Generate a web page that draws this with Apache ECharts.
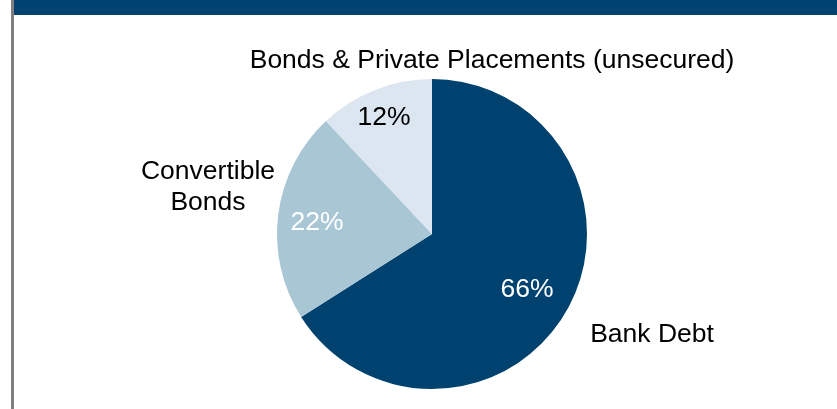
<!DOCTYPE html>
<html>
<head>
<meta charset="utf-8">
<script src="https://cdn.jsdelivr.net/npm/echarts@6/dist/echarts.min.js"></script>
<style>
html,body{margin:0;padding:0;background:#fff;}
#c{width:837px;height:409px;}
</style>
</head>
<body>
<div id="c"></div>
<script>
const categories = ['Bank Debt', 'Convertible\nBonds', 'Bonds & Private Placements (unsecured)'];
const values = [66, 22, 12];
const sliceColors = ['#00426F', '#A9C6D4', '#DCE6F0'];
const pctColors = ['#ffffff', '#ffffff', '#000000'];

// label anchor positions (layout only)
const nameLayout = [[652, 335], [208, 187], [492, 61]];
const pctLayout = [[527, 290], [317, 223], [384, 118]];

const center = [432, 234];
const radius = 155;

const chart = echarts.init(document.getElementById('c'), null, {renderer: 'canvas'});
const font = 'Liberation Sans, Arial, sans-serif';

chart.setOption({
  animation: false,
  graphic: [
    {type: 'rect', shape: {x: 11, y: 0, width: 3, height: 409}, style: {fill: '#7F7F7F'}, silent: true},
    {type: 'rect', shape: {x: 14, y: 0, width: 823, height: 15}, style: {fill: '#00426F'}, silent: true}
  ],
  series: [
    {
      type: 'pie',
      center: center,
      radius: radius,
      startAngle: 90,
      clockwise: true,
      silent: true,
      itemStyle: {borderWidth: 0},
      data: categories.map((n, i) => ({
        name: n, value: values[i],
        itemStyle: {color: sliceColors[i]},
        label: {color: pctColors[i]}
      })),
      label: {
        show: true,
        position: 'inside',
        formatter: '{c}%',
        fontFamily: font,
        fontSize: 26.5
      },
      labelLine: {show: false},
      labelLayout: function (p) {
        const pos = pctLayout[p.dataIndex];
        return {x: pos[0], y: pos[1], align: 'center', verticalAlign: 'middle'};
      }
    },
    {
      type: 'pie',
      center: center,
      radius: radius,
      startAngle: 90,
      clockwise: true,
      silent: true,
      itemStyle: {color: 'rgba(0,0,0,0)', borderWidth: 0},
      data: categories.map((n, i) => ({name: n, value: values[i]})),
      label: {
        show: true,
        position: 'inside',
        formatter: '{b}',
        color: '#000000',
        fontFamily: font,
        fontSize: 26.5,
        lineHeight: 31,
        align: 'center'
      },
      labelLine: {show: false},
      labelLayout: function (p) {
        const pos = nameLayout[p.dataIndex];
        return {x: pos[0], y: pos[1], align: 'center', verticalAlign: 'middle'};
      }
    }
  ]
});
</script>
</body>
</html>
